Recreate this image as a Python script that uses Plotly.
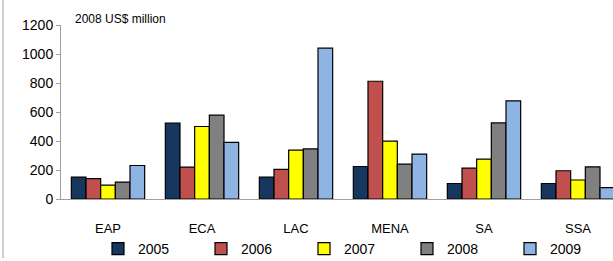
import plotly.graph_objects as go

categories = ["EAP", "ECA", "LAC", "MENA", "SA", "SSA"]
years = ["2005", "2006", "2007", "2008", "2009"]
v2005 = [151, 523, 151, 224, 107, 107]
v2006 = [140, 220, 204, 812, 213, 195]
v2007 = [96, 500, 337, 399, 275, 131]
v2008 = [117, 578, 346, 241, 525, 222]
v2009 = [231, 390, 1040, 310, 677, 78]
series = [v2005, v2006, v2007, v2008, v2009]
colors = ["#17375E", "#C0504D", "#FFFF00", "#808080", "#8DB4E2"]
yticks = [0, 200, 400, 600, 800, 1000, 1200]

W, H = 613, 261
ml, mr, mt, mb = 61, 0, 25, 62
pw = W - ml - mr
ph = H - mt - mb

fig = go.Figure()
for name, vals, c in zip(years, series, colors):
    fig.add_trace(go.Bar(
        x=categories, y=vals, name=name,
        marker=dict(color=c, line=dict(color="black", width=1.2)),
    ))

font = "Liberation Sans, Arial, sans-serif"
fig.update_layout(
    width=W, height=H,
    margin=dict(l=ml, r=mr, t=mt, b=mb, autoexpand=False),
    paper_bgcolor="white", plot_bgcolor="white",
    barmode="group", bargap=0.22, bargroupgap=0,
    font=dict(family=font, size=13, color="black"),
    showlegend=True,
    legend=dict(
        orientation="h", x=(98 - ml) / pw, xanchor="left",
        y=-(265 - 199) / ph, yanchor="bottom",
        entrywidth=58, entrywidthmode="pixels",
        font=dict(size=14, family=font),
        itemwidth=30, tracegroupgap=0,
        bgcolor="rgba(0,0,0,0)",
    ),
    xaxis=dict(
        range=[-0.5, 5.5 - 12 / 94], showline=True, linecolor="#A0A0A0",
        linewidth=1, ticks="", tickfont=dict(size=13), ticklabelstandoff=17,
        fixedrange=True,
    ),
    yaxis=dict(
        range=[0, 1200], tickvals=yticks, showline=True, linecolor="#A0A0A0",
        linewidth=1, ticks="outside", ticklen=4, tickcolor="#A0A0A0",
        showgrid=False, zeroline=False, tickfont=dict(size=14),
    ),
    annotations=[dict(
        text="2008 US$ million", xref="paper", yref="paper",
        x=(73 - ml) / pw, y=1.0 + 6 / ph, xanchor="left", yanchor="middle",
        showarrow=False, font=dict(size=12, family=font),
    )],
    shapes=[dict(
        type="line", xref="paper", yref="paper",
        x0=(3 - ml) / pw, x1=(3 - ml) / pw,
        y0=-(258 - 199) / ph, y1=1 + mt / ph,
        line=dict(color="#A0A0A0", width=1),
    )],
)

fig.write_html("out.html", config={"displayModeBar": False},
               post_script="document.body.style.margin='0';")
